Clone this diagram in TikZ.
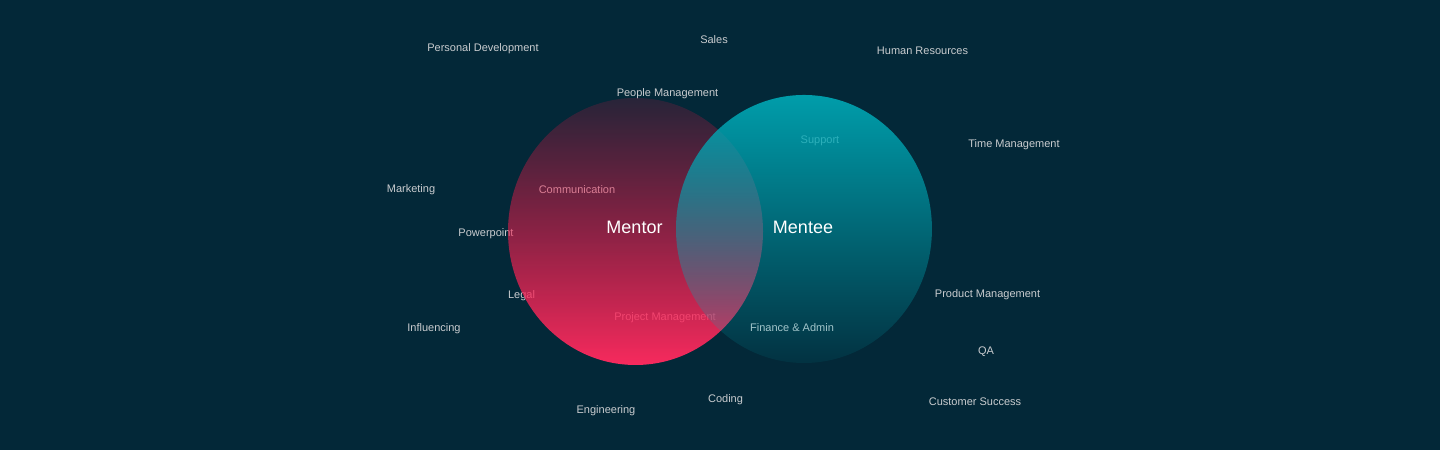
\documentclass[tikz,border=0pt]{standalone}
\usepackage{fontspec}
\setmainfont{Liberation Sans}
\usetikzlibrary{fadings}
\definecolor{bg}{HTML}{032838}
\definecolor{lbl}{HTML}{C9CCCF}
\definecolor{pinkA}{HTML}{E8123F}
\definecolor{pinkB}{HTML}{FF2B5F}
\definecolor{tealc}{HTML}{00A8B5}
\tikzfading[name=mentorfade, top color=transparent!84, bottom color=transparent!3]
\tikzfading[name=menteefade, top color=transparent!8, bottom color=transparent!92]
\begin{document}
\begin{tikzpicture}[x=1pt,y=-1pt,
  lab/.style={text=lbl, font=\fontsize{11}{13}\selectfont, inner sep=0pt, text height=7.9pt, text depth=0pt, yshift=-1pt},
  big/.style={text=white, font=\fontsize{18}{21}\selectfont, inner sep=0pt, text height=12.9pt, text depth=0pt}]
\fill[bg] (0,0) rectangle (1440,450);
\useasboundingbox (0,0) rectangle (1440,450);
% labels (under the circles)
\node[lab] (pd) at (483,47) {Personal Development};
\node[lab] (sa) at (714,39) {Sales};
\node[lab] (hr) at (922.5,50) {Human Resources};
\node[lab] (pm) at (667.5,92) {People Management};
\node[lab] (su) at (820,139) {Support};
\node[lab] (tm) at (1014,143) {Time Management};
\node[lab] (mk) at (411,188) {Marketing};
\node[lab] (co) at (577,189) {Communication};
\node[lab] (pp) at (486,232) {Powerpoint};
\node[lab] (le) at (521.5,294) {Legal};
\node[lab] (in) at (434,327) {Influencing};
\node[lab] (prm) at (665,316) {Project Management};
\node[lab] (fa) at (792,327) {Finance \& Admin};
\node[lab] (pdm) at (987.5,293) {Product Management};
\node[lab] (qa) at (986,350) {QA};
\node[lab] (cs) at (975,401) {Customer Success};
\node[lab] (en) at (606,409) {Engineering};
\node[lab] (cd) at (725.5,398) {Coding};
% circles
\shade[top color=pinkA, bottom color=pinkB, path fading=mentorfade]
  (635.5,231.5) ellipse [x radius=127.5, y radius=133.5];
\fill[tealc, path fading=menteefade]
  (804,229) ellipse [x radius=128, y radius=134];
% titles
\node[big] (mentor) at (634.5,227.5) {Mentor};
\node[big] (mentee) at (803,227.5) {Mentee};
\end{tikzpicture}
\end{document}
